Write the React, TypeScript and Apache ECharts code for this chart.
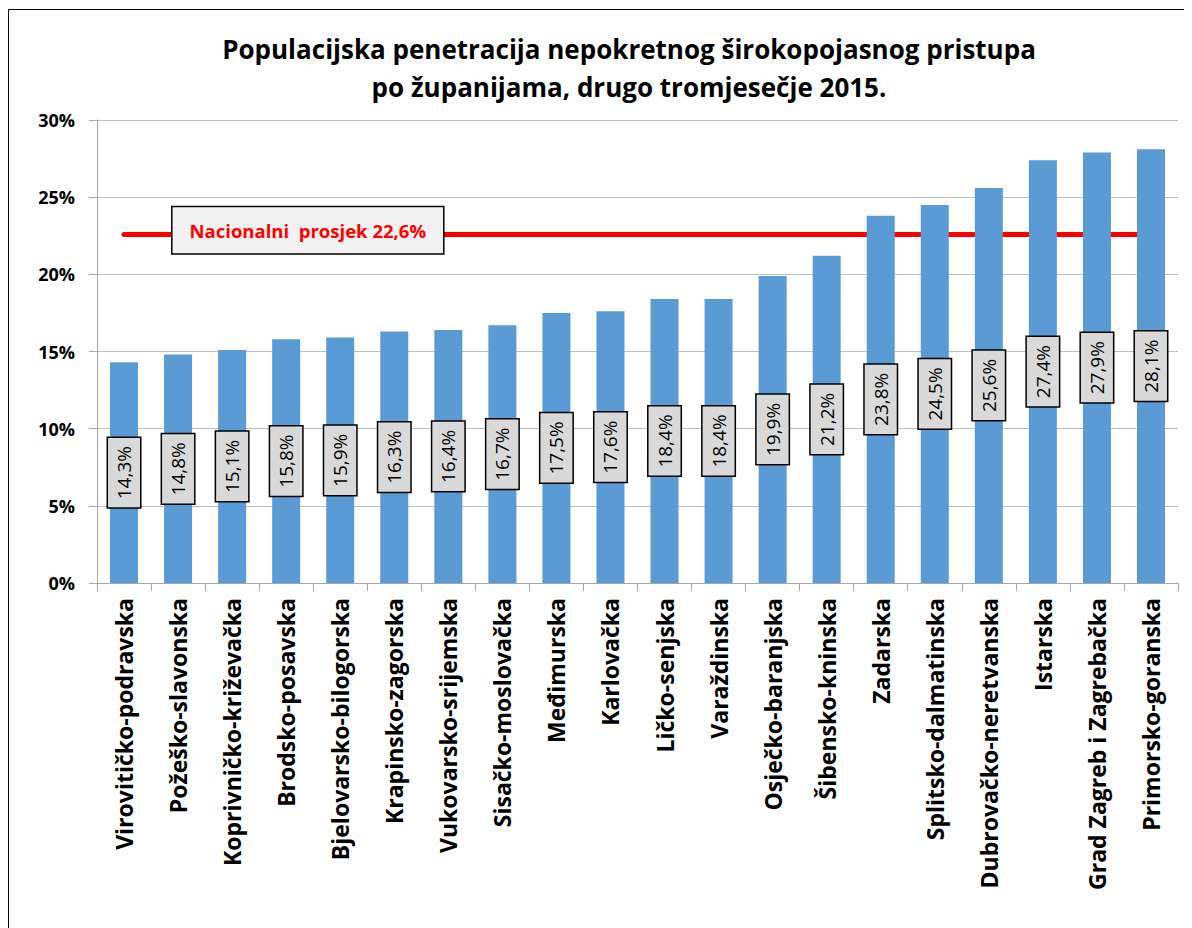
import React, { useEffect, useRef } from "react";
import * as echarts from "echarts";

const titleLines = [
  "Populacijska penetracija nepokretnog širokopojasnog pristupa",
  "po županijama, drugo tromjesečje 2015.",
];

const counties = [
  "Virovitičko-podravska",
  "Požeško-slavonska",
  "Koprivničko-križevačka",
  "Brodsko-posavska",
  "Bjelovarsko-bilogorska",
  "Krapinsko-zagorska",
  "Vukovarsko-srijemska",
  "Sisačko-moslovačka",
  "Međimurska",
  "Karlovačka",
  "Ličko-senjska",
  "Varaždinska",
  "Osječko-baranjska",
  "Šibensko-kninska",
  "Zadarska",
  "Splitsko-dalmatinska",
  "Dubrovačko-neretvanska",
  "Istarska",
  "Grad Zagreb i Zagrebačka",
  "Primorsko-goranska",
];

const penetration = [
  14.3, 14.8, 15.1, 15.8, 15.9, 16.3, 16.4, 16.7, 17.5, 17.6, 18.4, 18.4, 19.9,
  21.2, 23.8, 24.5, 25.6, 27.4, 27.9, 28.1,
];

const nationalAverage = 22.6;
const nationalLabel = "Nacionalni  prosjek 22,6%";
// position of the national-average label along the category span (in category units)
const nationalLabelPos = 3.9;

const fmt = (v: number) => v.toFixed(1).replace(".", ",") + "%";

export default function App() {
  const ref = useRef<HTMLDivElement>(null);

  useEffect(() => {
    if (!ref.current) return;
    const chart = echarts.init(ref.current, null, { renderer: "svg" });
    const font = "'Open Sans', sans-serif";
    chart.setOption({
      animation: false,
      backgroundColor: "#ffffff",
      textStyle: { fontFamily: font },
      graphic: [
        {
          type: "rect",
          shape: { x: 0.5, y: 1.5, width: 1400, height: 1200 },
          style: { fill: "none", stroke: "#000000", lineWidth: 1 },
          silent: true,
        },
      ],
      title: {
        text: titleLines.join("\n"),
        left: 616,
        top: 17,
        textAlign: "center",
        textStyle: {
          fontFamily: font,
          fontSize: 26,
          fontWeight: "bold",
          color: "#000000",
          lineHeight: 38,
        },
      },
      grid: { left: 89, right: 14, top: 112, bottom: 345 },
      xAxis: [
        {
          type: "category",
          data: counties,
          axisLine: { lineStyle: { color: "#A6A6A6", width: 1 } },
          axisTick: { show: true, length: 8, lineStyle: { color: "#A6A6A6" } },
          axisLabel: {
            rotate: 90,
            interval: 0,
            margin: 15,
            fontFamily: font,
            fontSize: 23,
            fontWeight: "bold",
            color: "#000000",
          },
        },
        {
          type: "value",
          min: 0,
          max: counties.length,
          show: false,
        },
      ],
      yAxis: {
        type: "value",
        min: 0,
        max: 30,
        interval: 5,
        axisLine: { show: true, lineStyle: { color: "#A6A6A6", width: 1 } },
        axisTick: { show: true, length: 8, lineStyle: { color: "#A6A6A6" } },
        splitLine: { lineStyle: { color: "#BFBFBF", width: 1 } },
        axisLabel: {
          formatter: (v: number) => v + "%",
          margin: 22,
          fontFamily: font,
          fontSize: 18,
          fontWeight: "bold",
          color: "#000000",
        },
      },
      series: [
        {
          type: "bar",
          data: penetration,
          barWidth: 28,
          itemStyle: { color: "#5B9BD5" },
          label: {
            show: true,
            position: "inside",
            rotate: 90,
            formatter: (p: any) => fmt(p.value),
            fontFamily: font,
            fontSize: 19,
            color: "#000000",
            backgroundColor: "#D9D9D9",
            borderColor: "#000000",
            borderWidth: 1.5,
            padding: [7, 8, 6, 8],
          },
          markLine: {
            silent: true,
            z: 2,
            symbol: ["none", "none"],
            label: { show: false },
            lineStyle: { color: "#FF0000", width: 5, type: "solid", cap: "round" },
            data: [
              [
                { coord: [0, nationalAverage] },
                { coord: [counties.length - 1, nationalAverage] },
              ],
            ],
          },
        },
        {
          type: "scatter",
          xAxisIndex: 1,
          z: 20,
          zlevel: 1,
          symbolSize: 1,
          itemStyle: { color: "rgba(0,0,0,0)", opacity: 1 },
          data: [[nationalLabelPos, nationalAverage]],
          label: {
            show: true,
            position: "inside",
            offset: [0, -4],
            formatter: nationalLabel,
            fontFamily: font,
            fontSize: 18.5,
            fontWeight: "bold",
            color: "#FF0000",
            opacity: 1,
            backgroundColor: "#F2F2F2",
            borderColor: "#000000",
            borderWidth: 1.5,
            padding: [14, 17, 13, 17],
          },
        },
      ],
    });
    return () => chart.dispose();
  }, []);

  return <div ref={ref} style={{ width: 1184, height: 920 }} />;
}
